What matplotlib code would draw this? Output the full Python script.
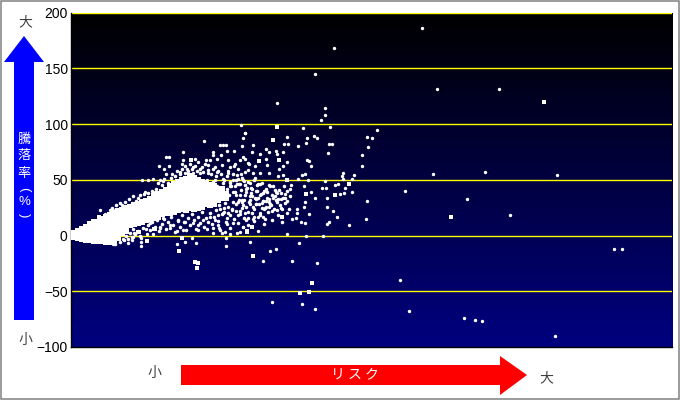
import numpy as np
import matplotlib
matplotlib.use('Agg')
import matplotlib.pyplot as plt
from matplotlib.patches import Polygon, Rectangle

plt.rcParams['font.family'] = ['Liberation Sans', 'Noto Sans CJK JP', 'DejaVu Sans']

# y axis
y_ticks = [-100, -50, 0, 50, 100, 150, 200]

# dense band, one row per risk value: (risk, returns)
core_rows = [
    (1, [0]),
    (4, [2, -1]),
    (8, [4, 1, -2]),
    (12, [6, 3, 0, -3]),
    (16, [8, 5, 2, -1, -4]),
    (20, [10, 7, 4, 1, -2, -4]),
    (24, [12, 9, 6, 3, 0, -3, -5]),
    (28, [12, 9, 6, 3, 0, -3, -5]),
    (32, [15, 12, 9, 6, 3, 0, -3, -5]),
    (36, [17, 14, 11, 8, 5, 2, -1, -4, -6]),
    (40, [18, 15, 12, 9, 6, 3, 0, -3, -6]),
    (44, [20, 17, 14, 11, 8, 5, 2, -1, -4]),
    (48, [22, 19, 16, 13, 10, 7, 4, 1, -2]),
    (52, [23, 20, 17, 14, 11, 8, 5, 2]),
    (56, [25, 22, 19, 16, 13, 10, 7, 4]),
    (60, [26, 23, 20, 17, 14, 11, 9]),
    (64, [27, 24, 21, 18, 15, 12, 10]),
    (68, [28, 25, 22, 19, 16, 13, 11]),
    (72, [30, 27, 24, 21, 18, 15, 12]),
    (76, [31, 28, 25, 22, 19, 16, 14]),
    (80, [33, 30, 27, 24, 21, 17, 15]),
    (84, [35, 32, 29, 26, 23, 19, 16]),
    (88, [37, 34, 31, 28, 25, 21, 17]),
    (92, [39, 36, 33, 30, 27, 23, 19]),
    (96, [41, 38, 35, 32, 29, 26, 23, 20]),
    (100, [44, 41, 38, 35, 32, 29, 26, 23, 20]),
    (104, [46, 43, 40, 37, 34, 31, 28, 25, 21]),
    (108, [48, 45, 42, 39, 36, 33, 30, 27, 23]),
    (112, [50, 47, 44, 41, 38, 35, 32, 28, 24]),
    (116, [51, 48, 45, 42, 39, 36, 33, 30, 27, 23]),
    (120, [53, 50, 47, 44, 41, 38, 35, 32, 28, 25]),
    (124, [52, 49, 46, 43, 40, 37, 34, 31, 27, 24]),
    (128, [50, 47, 44, 41, 38, 35, 32, 28, 25]),
    (132, [48, 45, 42, 39, 36, 33, 29, 26]),
    (136, [47, 43, 40, 37, 34, 31, 28]),
    (140, [45, 42, 39, 36, 33, 30, 27]),
    (144, [44, 40, 37, 34, 31, 28]),
    (148, [41, 38, 35, 32]),
    (152, [42, 37, 34]),
    (156, [37, 34]),
]

# scattered points
spread_risk = [
    207, 255, 255, 251, 260, 233, 307, 175, 217, 237, 244, 247, 297, 302, 214, 218, 236, 228, 259, 262,
    298, 292, 258, 196, 183, 206, 213, 199, 207, 190, 182, 173, 196, 237, 239, 217, 213, 241, 209, 292,
    179, 185, 197, 284, 273, 272, 235, 232, 213, 208, 199, 190, 183, 228, 238, 255, 282, 273, 268, 265,
    252, 256, 275, 234, 221, 220, 282, 241, 245, 270, 274, 257, 297, 207, 215, 215, 211, 203, 197, 190,
    199, 235, 257, 263, 234, 227, 227, 212, 207, 194, 188, 193, 217, 222, 226, 231, 235, 239, 267, 296,
    259, 257, 279, 195, 183, 173, 188, 217, 236, 253, 180, 229, 206, 200, 193, 222, 247, 202, 232, 245,
    264, 352, 367, 429, 245, 363, 415, 487, 335, 397, 440, 544, 552, 330, 339, 394, 405, 412, 485, 171,
    175, 173, 134, 172, 150, 153, 156, 157, 164, 143, 143, 151, 147, 140, 136, 113, 125, 128, 113, 112,
    96, 99, 89, 99, 94, 96, 83, 102, 78, 90, 72, 93, 117, 123, 132, 138, 145, 158, 160, 152,
    170, 175, 168, 178, 175, 167, 158, 147, 138, 130, 123, 115, 110, 173, 163, 153, 145, 137, 127, 165,
    107, 126, 122, 115, 156, 156, 71, 71, 71, 62, 63, 160, 170, 167, 152, 143, 83, 77, 64, 76,
    90, 100, 107, 113, 128, 143, 137, 173, 155, 163, 157, 108, 93, 85, 80, 77, 100, 115, 123, 128,
    145, 148, 149, 133, 140, 153, 160, 168, 175, 178, 157, 30, 35, 52, 43, 53, 58, 57, 62, 68,
    75, 83, 40, 45, 90, 53, 160, 165, 170, 176, 180, 163, 170, 176, 182, 186, 168, 174, 180, 186,
    192, 150, 158, 166, 172, 178, 184, 190, 196, 202, 148, 154, 162, 170, 176, 184,
    160, 168, 174, 182, 188, 194, 200, 206,
    166, 172, 180, 186, 193, 199,
    158, 164, 171, 178, 185, 192,
]
spread_ret = [
    119, 114, 108, 104, 97, 96, 95, 92, 88, 87, 89, 87, 88, 87, 82, 82, 83, 80, 82, 82,
    79, 72, 74, 78, 81, 76, 75, 75, 73, 73, 75, 70, 69, 68, 67, 66, 62, 62, 60, 62,
    64, 62, 63, 54, 56, 53, 55, 54, 54, 53, 56, 56, 56, 51, 50, 49, 51, 51, 46, 45,
    43, 43, 43, 44, 45, 42, 39, 39, 34, 37, 38, 34, 31, 38, 37, 34, 33, 34, 34, 36,
    30, 30, 26, 22, 26, 24, 20, 24, 23, 24, 17, 17, 20, 15, 16, 12, 11, 19, 17, 15,
    12, 10, 9, 15, 15, 8, 4, 1, 0, 0, -6, -7, -12, -14, -23, -23, -25, -60, -61, -66,
    168, 186, 131, 131, 145, 55, 57, 54, 40, 33, 18, -12, -12, -40, -68, -74, -76, -77, -90, 99,
    92, 87, 85, 80, 81, 81, 81, 76, 76, 75, 72, 72, 69, 68, 68, 75, 69, 66, 68, 64,
    70, 70, 62, 62, 60, 55, 51, 55, 50, 50, 50, 49, 60, 61, 61, 63, 61, 68, 61, 63,
    68, 69, 60, 65, 57, 54, 56, 57, 56, 56, 56, 56, 57, 50, 50, 51, 50, 50, 48, 64,
    -8, -7, -2, -6, -9, -2, -2, -6, -9, -4, -1, 1, 3, 2, 2, 2, 1, 1, 2, 6,
    7, 7, 4, 5, 5, 7, 6, 8, 3, 11, 10, 13, 16, 16, 11, 16, 9, 12, 11, 9,
    14, 9, 7, 14, 17, 20, 18, 18, 20, 16, 16, 23, 19, 27, -8, -3, -7, 26, 29, 34,
    39, 39, 23, 23, 8, 2, 47, 44, 46, 42, 47, 39, 36, 39, 35, 40, 30, 32, 28, 33,
    29, 24, 26, 22, 25, 21, 24, 20, 26, 22, 18, 21, 23, 19, 14, 17,
    44, 51, 49, 42, 46, 40, 44, 39,
    36, 32, 35, 28, 31, 26,
    58, 62, 55, 59, 52, 47,
]

# edge of the band and the dots around it
fringe_risk = [
    42, 46, 50, 55, 59, 63, 66, 70, 74, 78, 82, 86, 88, 92, 94, 98, 101, 105, 107, 110,
    112, 115, 118, 120, 122, 125, 127, 130, 133, 135, 138, 141, 143, 146, 148, 151, 154, 157, 160, 163,
    166, 169, 172, 175, 178, 181, 184, 187, 190, 193, 196, 199, 202, 205, 208, 211, 214, 217, 220,
    63, 66, 68, 70, 73, 75, 78, 80, 82, 85, 87, 89, 92, 94, 96, 98, 101, 103, 105, 108,
    110, 112, 114, 116, 118, 120, 122, 124, 126, 128, 130, 132, 134, 136, 138, 140, 142, 144, 146, 148,
    150, 152, 154, 156, 158, 160, 162, 164, 166, 168, 170, 172, 174, 176, 178, 180, 182, 184, 186, 188,
    190, 192, 194, 196, 198, 200, 202, 204, 206, 208, 210, 212,
    45, 50, 54, 56, 58, 60, 62, 65, 67, 70,
    141, 143, 145, 147, 149, 151, 153, 155, 157, 159, 161, 163, 165, 167, 169, 171, 173, 175, 177, 179,
    181, 183, 185, 187, 189, 191, 193, 195, 197, 199, 201, 203, 205, 207, 209, 211, 213, 215, 217, 219,
]
fringe_ret = [
    25, 27, 29, 30, 33, 35, 31, 36, 37, 38, 40, 42, 47, 45, 51, 47, 52, 53, 58, 55,
    60, 62, 58, 64, 60, 62, 58, 60, 57, 64, 59, 55, 60, 53, 58, 55, 50, 53, 48, 55,
    50, 46, 52, 45, 48, 43, 50, 40, 46, 38, 42, 45, 36, 41, 33, 38, 44, 31, 35,
    6, 10, 4, 12, 7, 14, 9, 5, 12, 8, 14, 4, 10, 15, 6, 12, 17, 9, 3, 14,
    8, 18, 12, 5, 16, 9, 19, 14, 6, 17, 11, 21, 8, 16, 12, 20, 10, 17, 23, 13,
    5, 19, 25, 12, 20, 7, 24, 15, 28, 11, 22, 30, 16, 26, 9, 32, 20, 13, 28, 34,
    18, 25, 10, 31, 21, 28, 14, 24, 32, 18, 27, 12,
    -8, -6, -4, 0, -3, 2, -1, 1, 3, 0,
    28, 48, 33, 44, 27, 40, 47, 29, 42, 36, 44, 30, 39, 46, 32, 41, 27, 36, 43, 30,
    38, 26, 34, 45, 28, 37, 31, 25, 39, 33, 27, 44, 35, 30, 41, 25, 34, 29, 40, 24,
]

# the larger square points
big_risk = [207, 203, 189, 209, 217, 279, 236, 265, 212, 182, 177, 230, 239, 242, 183, 474, 381, 121, 109, 125, 128, 127, 112, 77, 177, 69, 84, 29, 68, 85]
big_ret = [97, 86, 67, 68, 50, 46, 37, 36, 17, 8, 4, -52, -51, -43, -18, 120, 17, 68, -14, -24, -25, -29, -2, -5, 3, 3, 6, 17, 3, 6]

core_risk = []
core_ret = []
for risk, rets in core_rows:
    for r in rets:
        core_risk.append(risk)
        core_ret.append(r)

fig = plt.figure(figsize=(6.8, 4.0), dpi=100)

# plot area
ax = fig.add_axes([70.5 / 680, 1 - 347 / 400, 601.5 / 680, 334.5 / 400])
gradient = np.linspace(0, 1, 256).reshape(-1, 1)
blues = np.zeros((256, 1, 3))
blues[:, :, 2] = gradient * 128 / 255
ax.imshow(blues, extent=[0, 602, -100, 200], aspect='auto', zorder=0, origin='upper')
ax.set_xlim(0, 602)
ax.set_ylim(-100, 200)

for t in y_ticks[1:]:
    ax.axhline(t, color='#ffff00', linewidth=1.0, zorder=1)

ax.scatter(core_risk, core_ret, s=14, marker='s', color='white', linewidths=0, zorder=3)
ax.scatter(spread_risk, spread_ret, s=6, marker='o', color='white', linewidths=0, zorder=3)
ax.scatter(fringe_risk, fringe_ret, s=6.5, marker='o', color='white', linewidths=0, zorder=3)
ax.scatter(big_risk, big_ret, s=8, marker='s', color='white', linewidths=0, zorder=3)

ax.set_xticks([])
ax.set_yticks(y_ticks)
ax.tick_params(axis='y', length=0, pad=2, labelsize=10, colors='black')
ax.spines['top'].set_visible(False)
ax.spines['right'].set_visible(False)
ax.spines['left'].set_linewidth(1.0)
ax.spines['bottom'].set_linewidth(1.0)

# arrows and labels, in pixel coordinates of the figure
over = fig.add_axes([0, 0, 1, 1], facecolor='none')
over.set_xlim(0, 680)
over.set_ylim(400, 0)
over.axis('off')

over.add_patch(Polygon([(24, 36), (44, 62), (34, 62), (34, 320), (14, 320), (14, 62), (4, 62)],
                       closed=True, facecolor='#0000ff', edgecolor='none'))
over.add_patch(Polygon([(181, 365), (500, 365), (500, 356), (527, 375), (500, 395), (500, 385), (181, 385)],
                       closed=True, facecolor='#ff0000', edgecolor='none'))
over.add_patch(Rectangle((0.75, 0.75), 678.5, 398.5, fill=False, edgecolor='#808080', linewidth=1.1))

cjk = ['Noto Sans CJK JP', 'DejaVu Sans']
over.text(25, 22, '大', color='#404040', fontsize=10, ha='center', va='center', family=cjk)
over.text(25, 340, '小', color='#404040', fontsize=10, ha='center', va='center', family=cjk)
over.text(154, 373, '小', color='#404040', fontsize=10, ha='center', va='center', family=cjk)
over.text(546, 378, '大', color='#404040', fontsize=10, ha='center', va='center', family=cjk)
over.text(355, 374, 'リ ス ク', color='white', fontsize=10, ha='center', va='center', family=cjk)

over.text(24, 139, '騰', color='white', fontsize=9.5, ha='center', va='center', family=cjk)
over.text(24, 156, '落', color='white', fontsize=9.5, ha='center', va='center', family=cjk)
over.text(24, 173, '率', color='white', fontsize=9.5, ha='center', va='center', family=cjk)
over.text(24, 189, '(', color='white', fontsize=9.5, ha='center', va='center', rotation=-90)
over.text(24, 202, '%', color='white', fontsize=9.5, ha='center', va='center')
over.text(24, 215, ')', color='white', fontsize=9.5, ha='center', va='center', rotation=-90)

fig.savefig('out.png', dpi=100)
